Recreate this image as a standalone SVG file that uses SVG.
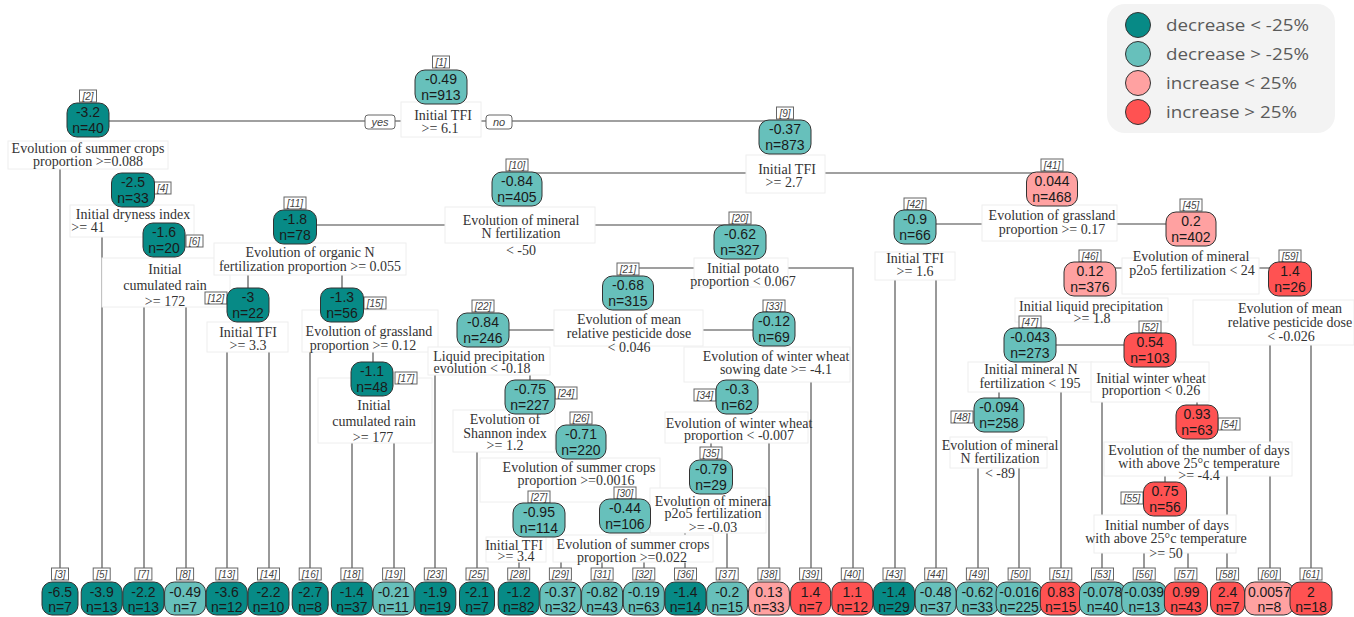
<svg xmlns="http://www.w3.org/2000/svg" width="1354" height="617" viewBox="0 0 1354 617">
<style>
.br{stroke:#808080;stroke-width:1.6;fill:none}
.tb{fill:#fff;stroke:#eeeeee;stroke-width:1}
.sp{font-family:"Liberation Serif",serif;font-size:14px;fill:#333;text-anchor:middle}
.nt{font-family:"Liberation Sans",Arial,sans-serif;font-size:14px;fill:#1a1a1a;text-anchor:middle}
.lb{fill:#fff;stroke:#666;stroke-width:1}
.lt{font-family:"Liberation Sans",Arial,sans-serif;font-size:10px;font-style:italic;fill:#444;text-anchor:middle}
.yn{font-family:"Liberation Sans",Arial,sans-serif;font-size:11px;font-style:italic;fill:#444;text-anchor:middle}
.d1{fill:#078a86;stroke:#333;stroke-width:1}
.d2{fill:#67c0bb;stroke:#333;stroke-width:1}
.i1{fill:#ffa1a1;stroke:#333;stroke-width:1}
.i2{fill:#ff5252;stroke:#333;stroke-width:1}
.lg{font-family:"Open Sans","Liberation Sans",sans-serif;font-size:17px;fill:#5a5a5a}
</style>
<rect width="1354" height="617" fill="#fff"/>
<g id="connectors">
<path class="br" d="M88 121H785"/>
<path class="br" d="M60 168V569M102 236V569M144 307V569M186 307V569"/>
<path class="br" d="M517 173H1052"/>
<path class="br" d="M295 225H740"/>
<path class="br" d="M248 275V288M342 270V288"/>
<path class="br" d="M227 352V569M269 352V569"/>
<path class="br" d="M310 352V569M373 352V362"/>
<path class="br" d="M352 443V569M394 443V569"/>
<path class="br" d="M628 268H853V569"/>
<path class="br" d="M483 330H774"/>
<path class="br" d="M435 375V569M530 372V380"/>
<path class="br" d="M477 452V569"/>
<path class="br" d="M519 560V569M561 560V569M602 560V569M644 560V569"/>
<path class="br" d="M811 382V569M769 442V569M711 442V448"/>
<path class="br" d="M727 533V569M685 533V569"/>
<path class="br" d="M915 224H1191"/>
<path class="br" d="M895 280V569M936 280V569"/>
<path class="br" d="M1090 268H1290"/>
<path class="br" d="M1150 313V333M1030 345H1150"/>
<path class="br" d="M1061 392V569M999 392V398"/>
<path class="br" d="M978 468V569M1019 468V569"/>
<path class="br" d="M1102 402V569M1197 402V405"/>
<path class="br" d="M1227 475V569M1165 475V482"/>
<path class="br" d="M1144 553V569M1188 553V569"/>
<path class="br" d="M1270 345V569M1311 345V569"/>
<rect class="lb" x="365" y="115" width="30" height="14" rx="3"/>
<text class="yn" x="380" y="126">yes</text>
<rect class="lb" x="486" y="115" width="26" height="14" rx="3"/>
<text class="yn" x="499" y="126">no</text>
</g>
<g id="split-labels">
<rect class="tb" x="401" y="102" width="80" height="35"/>
<rect class="tb" x="8" y="141" width="160" height="28"/>
<rect class="tb" x="70" y="205" width="124" height="32"/>
<rect class="tb" x="102" y="258" width="128" height="49"/>
<rect class="tb" x="746" y="155" width="79" height="38"/>
<rect class="tb" x="445" y="207" width="150" height="36"/>
<rect class="tb" x="214" y="243" width="192" height="32"/>
<rect class="tb" x="207" y="322" width="81" height="30"/>
<rect class="tb" x="302" y="310" width="136" height="42"/>
<rect class="tb" x="318" y="378" width="114" height="65"/>
<rect class="tb" x="694" y="258" width="94" height="29"/>
<rect class="tb" x="554" y="310" width="149" height="36"/>
<rect class="tb" x="428" y="347" width="122" height="28"/>
<rect class="tb" x="453" y="410" width="102" height="42"/>
<rect class="tb" x="480" y="458" width="180" height="44"/>
<rect class="tb" x="553" y="535" width="160" height="27"/>
<rect class="tb" x="486" y="537" width="60" height="25"/>
<rect class="tb" x="684" y="347" width="166" height="35"/>
<rect class="tb" x="665" y="412" width="143" height="31"/>
<rect class="tb" x="650" y="488" width="116" height="45"/>
<rect class="tb" x="982" y="205" width="135" height="36"/>
<rect class="tb" x="875" y="252" width="80" height="28"/>
<rect class="tb" x="1122" y="258" width="137" height="36"/>
<rect class="tb" x="1015" y="298" width="153" height="24"/>
<rect class="tb" x="968" y="362" width="124" height="30"/>
<rect class="tb" x="950" y="437" width="97" height="31"/>
<rect class="tb" x="1091" y="362" width="118" height="40"/>
<rect class="tb" x="1104" y="442" width="188" height="34"/>
<rect class="tb" x="1094" y="515" width="142" height="38"/>
<rect class="tb" x="1193" y="300" width="161" height="45"/>
<text class="sp" x="443" y="120">Initial TFI</text><text class="sp" x="440" y="133">&gt;= 6.1</text>
<text class="sp" x="88" y="153">Evolution of summer crops</text><text class="sp" x="88" y="166">proportion &gt;=0.088</text>
<text class="sp" x="133" y="219">Initial dryness index</text><text class="sp" x="88" y="232">&gt;= 41</text>
<text class="sp" x="165" y="274">Initial</text><text class="sp" x="165" y="290">cumulated rain</text><text class="sp" x="165" y="306">&gt;= 172</text>
<text class="sp" x="787" y="174">Initial TFI</text><text class="sp" x="784" y="187">&gt;= 2.7</text>
<text class="sp" x="521" y="225">Evolution of mineral</text><text class="sp" x="521" y="238">N fertilization</text><text class="sp" x="521" y="255">&lt; -50</text>
<text class="sp" x="310" y="257">Evolution of organic N</text><text class="sp" x="310" y="271">fertilization proportion &gt;= 0.055</text>
<text class="sp" x="248" y="337">Initial TFI</text><text class="sp" x="248" y="350">&gt;= 3.3</text>
<text class="sp" x="369" y="336">Evolution of grassland</text><text class="sp" x="363" y="350">proportion &gt;= 0.12</text>
<text class="sp" x="374" y="410">Initial</text><text class="sp" x="374" y="426">cumulated rain</text><text class="sp" x="373" y="442">&gt;= 177</text>
<text class="sp" x="743" y="273">Initial potato</text><text class="sp" x="743" y="286">proportion &lt; 0.067</text>
<text class="sp" x="629" y="324">Evolution of mean</text><text class="sp" x="629" y="338">relative pesticide dose</text><text class="sp" x="629" y="352">&lt; 0.046</text>
<text class="sp" x="489" y="361">Liquid precipitation</text><text class="sp" x="482" y="373">evolution &lt; -0.18</text>
<text class="sp" x="505" y="424">Evolution of</text><text class="sp" x="505" y="438">Shannon index</text><text class="sp" x="505" y="450">&gt;= 1.2</text>
<text class="sp" x="579" y="472">Evolution of summer crops</text><text class="sp" x="576" y="485">proportion &gt;=0.0016</text>
<text class="sp" x="633" y="549">Evolution of summer crops</text><text class="sp" x="632" y="562">proportion &gt;=0.022</text>
<text class="sp" x="514" y="550">Initial TFI</text><text class="sp" x="516" y="561">&gt;= 3.4</text>
<text class="sp" x="776" y="361">Evolution of winter wheat</text><text class="sp" x="776" y="374">sowing date &gt;= -4.1</text>
<text class="sp" x="739" y="428">Evolution of winter wheat</text><text class="sp" x="739" y="440">proportion &lt; -0.007</text>
<text class="sp" x="713" y="506">Evolution of mineral</text><text class="sp" x="713" y="518">p2o5 fertilization</text><text class="sp" x="713" y="532">&gt;= -0.03</text>
<text class="sp" x="1052" y="220">Evolution of grassland</text><text class="sp" x="1052" y="234">proportion &gt;= 0.17</text>
<text class="sp" x="915" y="263">Initial TFI</text><text class="sp" x="915" y="276">&gt;= 1.6</text>
<text class="sp" x="1191" y="261">Evolution of mineral</text><text class="sp" x="1192" y="275">p2o5 fertilization &lt; 24</text>
<text class="sp" x="1091" y="311">Initial liquid precipitation</text><text class="sp" x="1092" y="323">&gt;= 1.8</text>
<text class="sp" x="1031" y="374">Initial mineral N</text><text class="sp" x="1030" y="388">fertilization &lt; 195</text>
<text class="sp" x="1000" y="450">Evolution of mineral</text><text class="sp" x="1000" y="463">N fertilization</text><text class="sp" x="1000" y="478">&lt; -89</text>
<text class="sp" x="1151" y="383">Initial winter wheat</text><text class="sp" x="1151" y="395">proportion &lt; 0.26</text>
<text class="sp" x="1199" y="455">Evolution of the number of days</text><text class="sp" x="1199" y="468">with above 25°c temperature</text><text class="sp" x="1199" y="480">&gt;= -4.4</text>
<text class="sp" x="1167" y="530">Initial number of days</text><text class="sp" x="1166" y="543">with above 25°c temperature</text><text class="sp" x="1166" y="558">&gt;= 50</text>
<text class="sp" x="1290" y="313">Evolution of mean</text><text class="sp" x="1290" y="327">relative pesticide dose</text><text class="sp" x="1291" y="341">&lt; -0.026</text>
</g>
<g id="n1"><rect class="lb" x="432.5" y="56" width="17" height="12"/><text class="lt" x="441" y="65.5">[1]</text><rect class="d2" x="415" y="70" width="52" height="34" rx="10"/><text class="nt" x="441" y="84">-0.49</text><text class="nt" x="441" y="100">n=913</text></g>
<g id="n2"><rect class="lb" x="79.5" y="90" width="17" height="12"/><text class="lt" x="88" y="99.5">[2]</text><rect class="d1" x="67" y="103" width="42" height="34" rx="10"/><text class="nt" x="88" y="117">-3.2</text><text class="nt" x="88" y="133">n=40</text></g>
<g id="n4"><rect class="lb" x="154" y="182" width="17" height="12"/><text class="lt" x="162.5" y="191.5">[4]</text><rect class="d1" x="111.5" y="173" width="43" height="34" rx="10"/><text class="nt" x="133" y="187">-2.5</text><text class="nt" x="133" y="203">n=33</text></g>
<g id="n6"><rect class="lb" x="186" y="235" width="17" height="12"/><text class="lt" x="194.5" y="244.5">[6]</text><rect class="d1" x="143" y="223" width="42" height="34" rx="10"/><text class="nt" x="164" y="237">-1.6</text><text class="nt" x="164" y="253">n=20</text></g>
<g id="n9"><rect class="lb" x="776.5" y="107" width="17" height="12"/><text class="lt" x="785" y="116.5">[9]</text><rect class="d2" x="759" y="120" width="52" height="34" rx="10"/><text class="nt" x="785" y="134">-0.37</text><text class="nt" x="785" y="150">n=873</text></g>
<g id="n10"><rect class="lb" x="506" y="159" width="22" height="12"/><text class="lt" x="517" y="168.5">[10]</text><rect class="d2" x="492" y="172" width="50" height="34" rx="10"/><text class="nt" x="517" y="186">-0.84</text><text class="nt" x="517" y="202">n=405</text></g>
<g id="n11"><rect class="lb" x="284" y="197" width="22" height="12"/><text class="lt" x="295" y="206.5">[11]</text><rect class="d1" x="273.5" y="210" width="43" height="34" rx="10"/><text class="nt" x="295" y="224">-1.8</text><text class="nt" x="295" y="240">n=78</text></g>
<g id="n12"><rect class="lb" x="205" y="292" width="22" height="12"/><text class="lt" x="216" y="301.5">[12]</text><rect class="d1" x="227" y="288" width="42" height="34" rx="10"/><text class="nt" x="248" y="302">-3</text><text class="nt" x="248" y="318">n=22</text></g>
<g id="n15"><rect class="lb" x="364" y="297" width="22" height="12"/><text class="lt" x="375" y="306.5">[15]</text><rect class="d1" x="320.5" y="288" width="43" height="34" rx="10"/><text class="nt" x="342" y="302">-1.3</text><text class="nt" x="342" y="318">n=56</text></g>
<g id="n17"><rect class="lb" x="395" y="372" width="22" height="12"/><text class="lt" x="406" y="381.5">[17]</text><rect class="d1" x="351" y="362" width="42" height="34" rx="10"/><text class="nt" x="372" y="376">-1.1</text><text class="nt" x="372" y="392">n=48</text></g>
<g id="n20"><rect class="lb" x="729" y="212" width="22" height="12"/><text class="lt" x="740" y="221.5">[20]</text><rect class="d2" x="714" y="225" width="52" height="34" rx="10"/><text class="nt" x="740" y="239">-0.62</text><text class="nt" x="740" y="255">n=327</text></g>
<g id="n21"><rect class="lb" x="617" y="263" width="22" height="12"/><text class="lt" x="628" y="272.5">[21]</text><rect class="d2" x="602.5" y="276" width="51" height="34" rx="10"/><text class="nt" x="628" y="290">-0.68</text><text class="nt" x="628" y="306">n=315</text></g>
<g id="n22"><rect class="lb" x="472" y="300" width="22" height="12"/><text class="lt" x="483" y="309.5">[22]</text><rect class="d2" x="457" y="313" width="52" height="34" rx="10"/><text class="nt" x="483" y="327">-0.84</text><text class="nt" x="483" y="343">n=246</text></g>
<g id="n24"><rect class="lb" x="555" y="387" width="22" height="12"/><text class="lt" x="566" y="396.5">[24]</text><rect class="d2" x="505" y="380" width="50" height="34" rx="10"/><text class="nt" x="530" y="394">-0.75</text><text class="nt" x="530" y="410">n=227</text></g>
<g id="n26"><rect class="lb" x="570" y="412" width="22" height="12"/><text class="lt" x="581" y="421.5">[26]</text><rect class="d2" x="556" y="425" width="50" height="34" rx="10"/><text class="nt" x="581" y="439">-0.71</text><text class="nt" x="581" y="455">n=220</text></g>
<g id="n27"><rect class="lb" x="528" y="491" width="22" height="12"/><text class="lt" x="539" y="500.5">[27]</text><rect class="d2" x="513" y="503" width="52" height="34" rx="10"/><text class="nt" x="539" y="517">-0.95</text><text class="nt" x="539" y="533">n=114</text></g>
<g id="n30"><rect class="lb" x="614" y="487" width="22" height="12"/><text class="lt" x="625" y="496.5">[30]</text><rect class="d2" x="599.5" y="499" width="51" height="34" rx="10"/><text class="nt" x="625" y="513">-0.44</text><text class="nt" x="625" y="529">n=106</text></g>
<g id="n33"><rect class="lb" x="763" y="300" width="22" height="12"/><text class="lt" x="774" y="309.5">[33]</text><rect class="d2" x="753" y="312" width="42" height="34" rx="10"/><text class="nt" x="774" y="326">-0.12</text><text class="nt" x="774" y="342">n=69</text></g>
<g id="n34"><rect class="lb" x="694" y="389" width="22" height="12"/><text class="lt" x="705" y="398.5">[34]</text><rect class="d2" x="716" y="380" width="42" height="34" rx="10"/><text class="nt" x="737" y="394">-0.3</text><text class="nt" x="737" y="410">n=62</text></g>
<g id="n35"><rect class="lb" x="700" y="447" width="22" height="12"/><text class="lt" x="711" y="456.5">[35]</text><rect class="d2" x="689.5" y="460" width="43" height="34" rx="10"/><text class="nt" x="711" y="474">-0.79</text><text class="nt" x="711" y="490">n=29</text></g>
<g id="n41"><rect class="lb" x="1041" y="159" width="22" height="12"/><text class="lt" x="1052" y="168.5">[41]</text><rect class="i1" x="1026.5" y="172" width="51" height="34" rx="10"/><text class="nt" x="1052" y="186">0.044</text><text class="nt" x="1052" y="202">n=468</text></g>
<g id="n42"><rect class="lb" x="904" y="198" width="22" height="12"/><text class="lt" x="915" y="207.5">[42]</text><rect class="d2" x="894" y="210" width="42" height="34" rx="10"/><text class="nt" x="915" y="224">-0.9</text><text class="nt" x="915" y="240">n=66</text></g>
<g id="n45"><rect class="lb" x="1180" y="199" width="22" height="12"/><text class="lt" x="1191" y="208.5">[45]</text><rect class="i1" x="1166" y="212" width="50" height="34" rx="10"/><text class="nt" x="1191" y="226">0.2</text><text class="nt" x="1191" y="242">n=402</text></g>
<g id="n46"><rect class="lb" x="1079" y="250" width="22" height="12"/><text class="lt" x="1090" y="259.5">[46]</text><rect class="i1" x="1064" y="262" width="52" height="34" rx="10"/><text class="nt" x="1090" y="276">0.12</text><text class="nt" x="1090" y="292">n=376</text></g>
<g id="n47"><rect class="lb" x="1019" y="316" width="22" height="12"/><text class="lt" x="1030" y="325.5">[47]</text><rect class="d2" x="1004" y="328" width="52" height="34" rx="10"/><text class="nt" x="1030" y="342">-0.043</text><text class="nt" x="1030" y="358">n=273</text></g>
<g id="n48"><rect class="lb" x="951" y="411" width="22" height="12"/><text class="lt" x="962" y="420.5">[48]</text><rect class="d2" x="974" y="398" width="50" height="34" rx="10"/><text class="nt" x="999" y="412">-0.094</text><text class="nt" x="999" y="428">n=258</text></g>
<g id="n52"><rect class="lb" x="1139" y="321" width="22" height="12"/><text class="lt" x="1150" y="330.5">[52]</text><rect class="i2" x="1124" y="333" width="52" height="34" rx="10"/><text class="nt" x="1150" y="347">0.54</text><text class="nt" x="1150" y="363">n=103</text></g>
<g id="n54"><rect class="lb" x="1218" y="418" width="22" height="12"/><text class="lt" x="1229" y="427.5">[54]</text><rect class="i2" x="1176" y="405" width="42" height="34" rx="10"/><text class="nt" x="1197" y="419">0.93</text><text class="nt" x="1197" y="435">n=63</text></g>
<g id="n55"><rect class="lb" x="1121" y="492" width="22" height="12"/><text class="lt" x="1132" y="501.5">[55]</text><rect class="i2" x="1143.5" y="482" width="43" height="34" rx="10"/><text class="nt" x="1165" y="496">0.75</text><text class="nt" x="1165" y="512">n=56</text></g>
<g id="n59"><rect class="lb" x="1279" y="250" width="22" height="12"/><text class="lt" x="1290" y="259.5">[59]</text><rect class="i2" x="1268.5" y="262" width="43" height="34" rx="10"/><text class="nt" x="1290" y="276">1.4</text><text class="nt" x="1290" y="292">n=26</text></g>
<g id="n3"><rect class="lb" x="51.5" y="568" width="17" height="12"/><text class="lt" x="60" y="577.5">[3]</text><rect class="d1" x="42" y="582" width="36" height="33" rx="10"/><text class="nt" x="60" y="597">-6.5</text><text class="nt" x="60" y="612">n=7</text></g>
<g id="n5"><rect class="lb" x="93.2" y="568" width="17" height="12"/><text class="lt" x="101.7" y="577.5">[5]</text><rect class="d1" x="81.2" y="582" width="41" height="33" rx="10"/><text class="nt" x="101.7" y="597">-3.9</text><text class="nt" x="101.7" y="612">n=13</text></g>
<g id="n7"><rect class="lb" x="134.9" y="568" width="17" height="12"/><text class="lt" x="143.4" y="577.5">[7]</text><rect class="d1" x="122.9" y="582" width="41" height="33" rx="10"/><text class="nt" x="143.4" y="597">-2.2</text><text class="nt" x="143.4" y="612">n=13</text></g>
<g id="n8"><rect class="lb" x="176.6" y="568" width="17" height="12"/><text class="lt" x="185.1" y="577.5">[8]</text><rect class="d2" x="164.6" y="582" width="41" height="33" rx="10"/><text class="nt" x="185.1" y="597">-0.49</text><text class="nt" x="185.1" y="612">n=7</text></g>
<g id="n13"><rect class="lb" x="215.8" y="568" width="22" height="12"/><text class="lt" x="226.8" y="577.5">[13]</text><rect class="d1" x="206.3" y="582" width="41" height="33" rx="10"/><text class="nt" x="226.8" y="597">-3.6</text><text class="nt" x="226.8" y="612">n=12</text></g>
<g id="n14"><rect class="lb" x="257.5" y="568" width="22" height="12"/><text class="lt" x="268.5" y="577.5">[14]</text><rect class="d1" x="248" y="582" width="41" height="33" rx="10"/><text class="nt" x="268.5" y="597">-2.2</text><text class="nt" x="268.5" y="612">n=10</text></g>
<g id="n16"><rect class="lb" x="299.2" y="568" width="22" height="12"/><text class="lt" x="310.2" y="577.5">[16]</text><rect class="d1" x="292.2" y="582" width="36" height="33" rx="10"/><text class="nt" x="310.2" y="597">-2.7</text><text class="nt" x="310.2" y="612">n=8</text></g>
<g id="n18"><rect class="lb" x="340.9" y="568" width="22" height="12"/><text class="lt" x="351.9" y="577.5">[18]</text><rect class="d1" x="331.4" y="582" width="41" height="33" rx="10"/><text class="nt" x="351.9" y="597">-1.4</text><text class="nt" x="351.9" y="612">n=37</text></g>
<g id="n19"><rect class="lb" x="382.6" y="568" width="22" height="12"/><text class="lt" x="393.6" y="577.5">[19]</text><rect class="d2" x="373.1" y="582" width="41" height="33" rx="10"/><text class="nt" x="393.6" y="597">-0.21</text><text class="nt" x="393.6" y="612">n=11</text></g>
<g id="n23"><rect class="lb" x="424.3" y="568" width="22" height="12"/><text class="lt" x="435.3" y="577.5">[23]</text><rect class="d1" x="414.8" y="582" width="41" height="33" rx="10"/><text class="nt" x="435.3" y="597">-1.9</text><text class="nt" x="435.3" y="612">n=19</text></g>
<g id="n25"><rect class="lb" x="466" y="568" width="22" height="12"/><text class="lt" x="477" y="577.5">[25]</text><rect class="d1" x="459.5" y="582" width="35" height="33" rx="10"/><text class="nt" x="477" y="597">-2.1</text><text class="nt" x="477" y="612">n=7</text></g>
<g id="n28"><rect class="lb" x="507.7" y="568" width="22" height="12"/><text class="lt" x="518.7" y="577.5">[28]</text><rect class="d1" x="498.2" y="582" width="41" height="33" rx="10"/><text class="nt" x="518.7" y="597">-1.2</text><text class="nt" x="518.7" y="612">n=82</text></g>
<g id="n29"><rect class="lb" x="549.4" y="568" width="22" height="12"/><text class="lt" x="560.4" y="577.5">[29]</text><rect class="d2" x="539.9" y="582" width="41" height="33" rx="10"/><text class="nt" x="560.4" y="597">-0.37</text><text class="nt" x="560.4" y="612">n=32</text></g>
<g id="n31"><rect class="lb" x="591.1" y="568" width="22" height="12"/><text class="lt" x="602.1" y="577.5">[31]</text><rect class="d2" x="581.6" y="582" width="41" height="33" rx="10"/><text class="nt" x="602.1" y="597">-0.82</text><text class="nt" x="602.1" y="612">n=43</text></g>
<g id="n32"><rect class="lb" x="632.8" y="568" width="22" height="12"/><text class="lt" x="643.8" y="577.5">[32]</text><rect class="d2" x="623.3" y="582" width="41" height="33" rx="10"/><text class="nt" x="643.8" y="597">-0.19</text><text class="nt" x="643.8" y="612">n=63</text></g>
<g id="n36"><rect class="lb" x="674.5" y="568" width="22" height="12"/><text class="lt" x="685.5" y="577.5">[36]</text><rect class="d1" x="665" y="582" width="41" height="33" rx="10"/><text class="nt" x="685.5" y="597">-1.4</text><text class="nt" x="685.5" y="612">n=14</text></g>
<g id="n37"><rect class="lb" x="716.2" y="568" width="22" height="12"/><text class="lt" x="727.2" y="577.5">[37]</text><rect class="d2" x="706.7" y="582" width="41" height="33" rx="10"/><text class="nt" x="727.2" y="597">-0.2</text><text class="nt" x="727.2" y="612">n=15</text></g>
<g id="n38"><rect class="lb" x="757.9" y="568" width="22" height="12"/><text class="lt" x="768.9" y="577.5">[38]</text><rect class="i1" x="748.4" y="582" width="41" height="33" rx="10"/><text class="nt" x="768.9" y="597">0.13</text><text class="nt" x="768.9" y="612">n=33</text></g>
<g id="n39"><rect class="lb" x="799.6" y="568" width="22" height="12"/><text class="lt" x="810.6" y="577.5">[39]</text><rect class="i2" x="790.6" y="582" width="40" height="33" rx="10"/><text class="nt" x="810.6" y="597">1.4</text><text class="nt" x="810.6" y="612">n=7</text></g>
<g id="n40"><rect class="lb" x="841.3" y="568" width="22" height="12"/><text class="lt" x="852.3" y="577.5">[40]</text><rect class="i2" x="831.8" y="582" width="41" height="33" rx="10"/><text class="nt" x="852.3" y="597">1.1</text><text class="nt" x="852.3" y="612">n=12</text></g>
<g id="n43"><rect class="lb" x="883" y="568" width="22" height="12"/><text class="lt" x="894" y="577.5">[43]</text><rect class="d1" x="873.5" y="582" width="41" height="33" rx="10"/><text class="nt" x="894" y="597">-1.4</text><text class="nt" x="894" y="612">n=29</text></g>
<g id="n44"><rect class="lb" x="924.7" y="568" width="22" height="12"/><text class="lt" x="935.7" y="577.5">[44]</text><rect class="d2" x="915.2" y="582" width="41" height="33" rx="10"/><text class="nt" x="935.7" y="597">-0.48</text><text class="nt" x="935.7" y="612">n=37</text></g>
<g id="n49"><rect class="lb" x="966.4" y="568" width="22" height="12"/><text class="lt" x="977.4" y="577.5">[49]</text><rect class="d2" x="956.4" y="582" width="42" height="33" rx="10"/><text class="nt" x="977.4" y="597">-0.62</text><text class="nt" x="977.4" y="612">n=33</text></g>
<g id="n50"><rect class="lb" x="1008.1" y="568" width="22" height="12"/><text class="lt" x="1019.1" y="577.5">[50]</text><rect class="d2" x="996.1" y="582" width="46" height="33" rx="10"/><text class="nt" x="1019.1" y="597">-0.016</text><text class="nt" x="1019.1" y="612">n=225</text></g>
<g id="n51"><rect class="lb" x="1049.8" y="568" width="22" height="12"/><text class="lt" x="1060.8" y="577.5">[51]</text><rect class="i2" x="1040.3" y="582" width="41" height="33" rx="10"/><text class="nt" x="1060.8" y="597">0.83</text><text class="nt" x="1060.8" y="612">n=15</text></g>
<g id="n53"><rect class="lb" x="1091.5" y="568" width="22" height="12"/><text class="lt" x="1102.5" y="577.5">[53]</text><rect class="d2" x="1079.5" y="582" width="46" height="33" rx="10"/><text class="nt" x="1102.5" y="597">-0.078</text><text class="nt" x="1102.5" y="612">n=40</text></g>
<g id="n56"><rect class="lb" x="1133.2" y="568" width="22" height="12"/><text class="lt" x="1144.2" y="577.5">[56]</text><rect class="d2" x="1121.7" y="582" width="45" height="33" rx="10"/><text class="nt" x="1144.2" y="597">-0.039</text><text class="nt" x="1144.2" y="612">n=13</text></g>
<g id="n57"><rect class="lb" x="1174.9" y="568" width="22" height="12"/><text class="lt" x="1185.9" y="577.5">[57]</text><rect class="i2" x="1164.4" y="582" width="43" height="33" rx="10"/><text class="nt" x="1185.9" y="597">0.99</text><text class="nt" x="1185.9" y="612">n=43</text></g>
<g id="n58"><rect class="lb" x="1216.6" y="568" width="22" height="12"/><text class="lt" x="1227.6" y="577.5">[58]</text><rect class="i2" x="1210.6" y="582" width="34" height="33" rx="10"/><text class="nt" x="1227.6" y="597">2.4</text><text class="nt" x="1227.6" y="612">n=7</text></g>
<g id="n60"><rect class="lb" x="1258.3" y="568" width="22" height="12"/><text class="lt" x="1269.3" y="577.5">[60]</text><rect class="i1" x="1244.8" y="582" width="49" height="33" rx="10"/><text class="nt" x="1269.3" y="597">0.0057</text><text class="nt" x="1269.3" y="612">n=8</text></g>
<g id="n61"><rect class="lb" x="1300" y="568" width="22" height="12"/><text class="lt" x="1311" y="577.5">[61]</text><rect class="i2" x="1290" y="582" width="42" height="33" rx="10"/><text class="nt" x="1311" y="597">2</text><text class="nt" x="1311" y="612">n=18</text></g>
<g id="legend">
<rect x="1107" y="4" width="228" height="129" rx="18" fill="#f3f3f3"/>
<circle class="d1" cx="1138" cy="25" r="12.5"/>
<circle class="d2" cx="1138" cy="54" r="12.5"/>
<circle class="i1" cx="1138" cy="83" r="12.5"/>
<circle class="i2" cx="1138" cy="112" r="12.5"/>
<text class="lg" x="1166" y="31" textLength="143" lengthAdjust="spacingAndGlyphs">decrease &lt; -25%</text>
<text class="lg" x="1166" y="60" textLength="143" lengthAdjust="spacingAndGlyphs">decrease &gt; -25%</text>
<text class="lg" x="1166" y="89" textLength="131" lengthAdjust="spacingAndGlyphs">increase &lt; 25%</text>
<text class="lg" x="1166" y="118" textLength="131" lengthAdjust="spacingAndGlyphs">increase &gt; 25%</text>
</g>
</svg>
